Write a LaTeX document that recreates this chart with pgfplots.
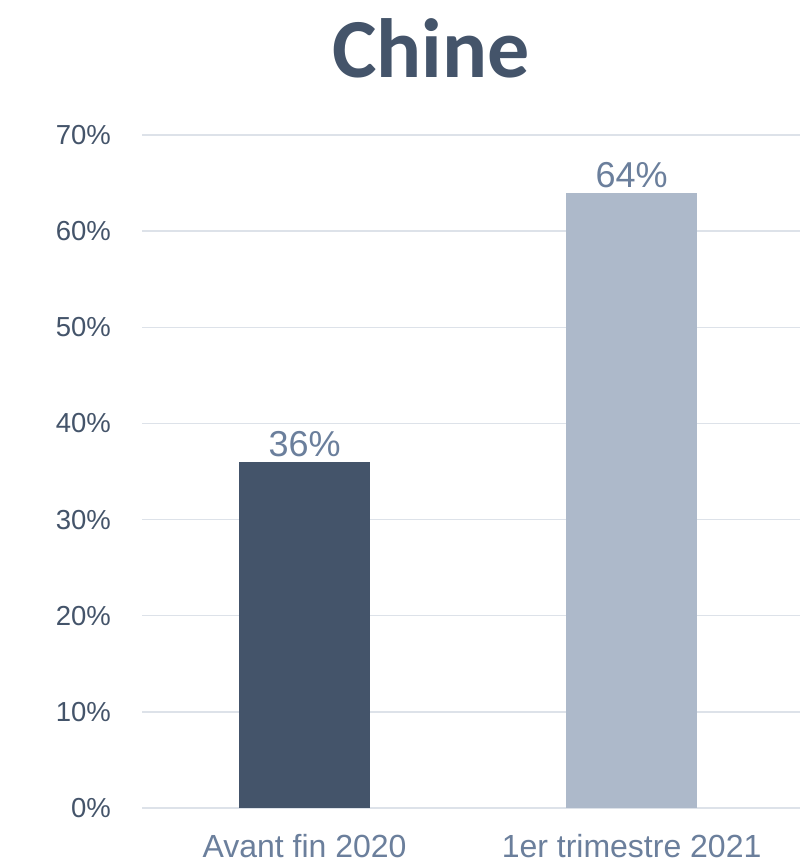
\documentclass[border=0pt]{standalone}
\usepackage{fontspec}
\setmainfont{Liberation Sans}
\newfontfamily\titlefont{Carlito}
\usepackage{pgfplots}
\pgfplotsset{compat=1.18}
\definecolor{darkbar}{HTML}{44546A}
\definecolor{lightbar}{HTML}{ADB9CA}
\definecolor{labcol}{HTML}{6B7F9C}
\definecolor{gridcol}{HTML}{DDE2E9}
\definecolor{ytickcol}{HTML}{44546A}
\begin{document}
\begin{tikzpicture}[x=1bp,y=1bp]
\useasboundingbox (0,0) rectangle (804,865);
\fill[white] (0,0) rectangle (804,865);
\node[anchor=base, inner sep=0, text=darkbar, font=\titlefont\bfseries\fontsize{84bp}{90bp}\selectfont] at (431,787) {Chine};
\begin{axis}[
  at={(142bp,57bp)}, anchor=south west,
  scale only axis, width=658bp, height=673bp,
  xmin=-0.497, xmax=1.515, ymin=0, ymax=70,
  axis lines=none,
  ytick={0,10,...,70},
  xtick={0,1},
  xticklabels={Avant fin 2020, 1er trimestre 2021},
  ymajorgrids=true,
  grid style={gridcol, line width=1.5bp},
  major tick length=0pt,
  yticklabel={\pgfmathprintnumber{\tick}\%},
  /pgf/number format/assume math mode=true,
  yticklabel style={anchor=east, inner sep=0, xshift=-31bp, text=ytickcol, font=\fontsize{27.5bp}{32bp}\selectfont},
  xticklabel style={anchor=north, inner sep=0, yshift=-26bp, text=labcol, font=\fontsize{32bp}{38bp}\selectfont},
  hide x axis=false, hide y axis=false,
  axis line style={draw=none},
  ybar, bar width=131bp, bar shift=0pt,
  nodes near coords={\pgfmathprintnumber{\pgfplotspointmeta}\%},
  every node near coord/.append style={anchor=base, inner sep=0, yshift=5bp, text=labcol, font=\fontsize{36bp}{42bp}\selectfont, /pgf/number format/assume math mode=true},
  clip=false,
]
\addplot[fill=darkbar, draw=none] coordinates {(0,36)};
\addplot[fill=lightbar, draw=none] coordinates {(1,64)};
\end{axis}
\end{tikzpicture}
\end{document}
